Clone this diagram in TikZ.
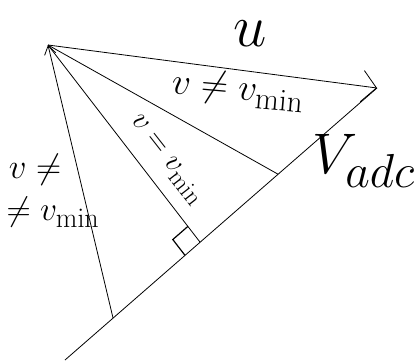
\documentclass[tikz,border=0pt]{standalone}
\usetikzlibrary{arrows.meta,positioning,calc}

\begin{document}
\begin{tikzpicture}[x=1pt,y=-1pt,
    vec/.style={
      line width=0.8pt
    },
    arrow/.style={
      -{Straight Barb[length=5mm,width=11mm]},
      line width=0.8pt
    },
    smallarrow/.style={
      -{Straight Barb[length=3mm,width=4mm]},
      line width=0.8pt
    },
    lbl/.style={
      font=\Huge,
      inner sep=0pt
    }]
    \useasboundingbox (0,0) rectangle (417,360);

    % Apex of the fan and the V_adc line (pixel units, y downwards)
    \coordinate (apex) at (48,45);
    \coordinate (adcStart) at (65,360);
    \coordinate (adcTip) at (377,88);
    \coordinate (footLeft) at ($(adcStart)!0.154!(adcTip)$);
    \coordinate (footPerp) at ($(adcStart)!0.433!(adcTip)$);
    \coordinate (footRight) at ($(adcStart)!0.683!(adcTip)$);

    % Lines of the sketch
    \draw[vec] (adcStart) -- (adcTip);
    \draw[arrow] (apex) -- (adcTip);
    \draw[smallarrow] (footLeft) -- (apex);
    \draw[vec] (apex) -- (footPerp);
    \draw[vec] (apex) -- (footRight);

    % Right angle mark at the foot of the perpendicular
    \coordinate (markA) at ($(footPerp)!20pt!(apex)$);
    \coordinate (markB) at ($(footPerp)!20pt!(adcStart)$);
    \coordinate (markC) at ($(markA)+(markB)-(footPerp)$);
    \draw[line width=1.2pt] (markA) -- (markC) -- (markB);

    % Labels
    \node[lbl,scale=2.4] (uLabel) at (250,34) {$u$};
    \node[lbl,scale=1.5,rotate=-5] (topLabel) at (238,90) {$v\neq v_{\min}$};
    \node[lbl,scale=1.2,rotate=-52] (perpLabel) at (166,160) {$v=v_{\min}$};
    \node[lbl,scale=2.3] (adcLabel) at (364,161) {$V_{adc}$};
    \node[lbl,scale=1.4] (leftLabelA) at (35,170) {$v\neq$};
    \node[lbl,scale=1.35] (leftLabelB) at (53,212) {$\neq v_{\min}$};
  \end{tikzpicture}
\end{document}
